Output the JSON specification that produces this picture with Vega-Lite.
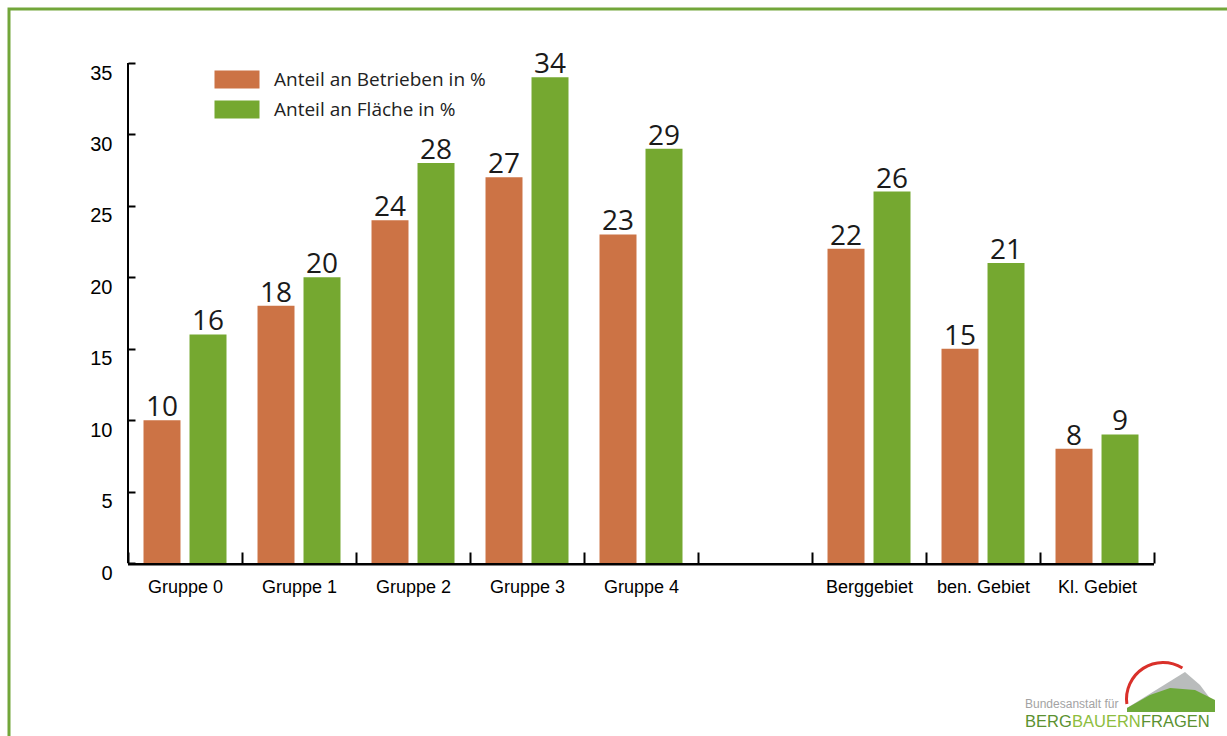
{
  "$schema": "https://vega.github.io/schema/vega-lite/v6.json",
  "width": 1223,
  "height": 732,
  "autosize": {"type": "none"},
  "padding": {"left": 9, "top": 9, "right": -5, "bottom": -5},
  "background": "white",
  "config": {"view": {"stroke": "#72a63a", "strokeWidth": 3, "fill": "white"}},
  "datasets": {
    "bars": [
      {"cat": "Gruppe 0", "series": "Anteil an Betrieben in %", "value": 10},
      {"cat": "Gruppe 0", "series": "Anteil an Fläche in %", "value": 16},
      {"cat": "Gruppe 1", "series": "Anteil an Betrieben in %", "value": 18},
      {"cat": "Gruppe 1", "series": "Anteil an Fläche in %", "value": 20},
      {"cat": "Gruppe 2", "series": "Anteil an Betrieben in %", "value": 24},
      {"cat": "Gruppe 2", "series": "Anteil an Fläche in %", "value": 28},
      {"cat": "Gruppe 3", "series": "Anteil an Betrieben in %", "value": 27},
      {"cat": "Gruppe 3", "series": "Anteil an Fläche in %", "value": 34},
      {"cat": "Gruppe 4", "series": "Anteil an Betrieben in %", "value": 23},
      {"cat": "Gruppe 4", "series": "Anteil an Fläche in %", "value": 29},
      {"cat": "Berggebiet", "series": "Anteil an Betrieben in %", "value": 22},
      {"cat": "Berggebiet", "series": "Anteil an Fläche in %", "value": 26},
      {"cat": "ben. Gebiet", "series": "Anteil an Betrieben in %", "value": 15},
      {"cat": "ben. Gebiet", "series": "Anteil an Fläche in %", "value": 21},
      {"cat": "Kl. Gebiet", "series": "Anteil an Betrieben in %", "value": 8},
      {"cat": "Kl. Gebiet", "series": "Anteil an Fläche in %", "value": 9}
    ],
    "cats": [
      {"cat": "Gruppe 0"}, {"cat": "Gruppe 1"}, {"cat": "Gruppe 2"}, {"cat": "Gruppe 3"}, {"cat": "Gruppe 4"},
      {"cat": " "}, {"cat": "Berggebiet"}, {"cat": "ben. Gebiet"}, {"cat": "Kl. Gebiet"}
    ],
    "logo": [{"name": "logo"}]
  },
  "layer": [
    {
      "data": {"name": "cats"},
      "mark": {"type": "bar", "color": "black"},
      "encoding": {
        "x": {"field": "cat", "type": "nominal"},
        "y": {"datum": 0, "type": "quantitative"},
        "y2": {"datum": -0.17}
      }
    },
    {
      "data": {"name": "logo"},
      "mark": {"type": "rule", "color": "black", "strokeWidth": 2},
      "encoding": {
        "x": {"datum": "Gruppe 0", "type": "nominal", "bandPosition": 0},
        "y": {"datum": 0, "type": "quantitative"},
        "y2": {"datum": 35}
      }
    },
    {
      "data": {"name": "bars"},
      "mark": {"type": "bar"},
      "encoding": {
        "x": {
          "field": "cat",
          "type": "nominal",
          "sort": null,
          "scale": {
            "domain": ["Gruppe 0", "Gruppe 1", "Gruppe 2", "Gruppe 3", "Gruppe 4", " ", "Berggebiet", "ben. Gebiet", "Kl. Gebiet"],
            "paddingInner": 0,
            "paddingOuter": 0.864,
            "align": 0.6041
          },
          "axis": {
            "title": null,
            "offset": -178,
            "domain": false,
            "tickBand": "extent",
            "tickSize": -11,
            "tickWidth": 2,
            "tickColor": "black",
            "labelAngle": 0,
            "labelAlign": "center",
            "labelFont": "Liberation Sans",
            "labelFontSize": 18,
            "labelColor": "black",
            "labelPadding": 35
          }
        },
        "xOffset": {
          "field": "series",
          "type": "nominal",
          "scale": {"domain": ["Anteil an Betrieben in %", "Anteil an Fläche in %"], "paddingInner": 0.196, "paddingOuter": 0.337}
        },
        "y": {
          "field": "value",
          "type": "quantitative",
          "scale": {"domain": [-12.46, 38.78], "nice": false, "zero": false},
          "axis": {
            "title": null,
            "values": [0, 5, 10, 15, 20, 25, 30, 35],
            "offset": -119,
            "domain": false,
            "grid": false,
            "tickSize": -7,
            "tickWidth": 2,
            "tickColor": "black",
            "labelFont": "Liberation Sans",
            "labelFontSize": 20,
            "labelColor": "black",
            "labelPadding": 23,
            "labelOffset": 10
          }
        },
        "color": {
          "field": "series",
          "type": "nominal",
          "scale": {"domain": ["Anteil an Betrieben in %", "Anteil an Fläche in %"], "range": ["#cc7345", "#75a830"]},
          "legend": {
            "title": null,
            "orient": "none",
            "legendX": 218.5,
            "legendY": 61,
            "padding": 0,
            "symbolType": "M-2.5,-1H2.5V1H-2.5Z",
            "symbolSize": 324,
            "symbolStrokeWidth": 0,
            "symbolOpacity": 1,
            "labelFont": "Open Sans",
            "labelFontSize": 19,
            "labelColor": "#222",
            "labelOffset": 27.5,
            "labelLimit": 500,
            "rowPadding": 10
          }
        }
      }
    },
    {
      "data": {"name": "bars"},
      "mark": {"type": "text", "font": "Open Sans", "fontSize": 28, "baseline": "alphabetic", "dy": -4, "color": "#1a1a1a"},
      "encoding": {
        "x": {"field": "cat", "type": "nominal"},
        "xOffset": {"field": "series", "type": "nominal"},
        "y": {"field": "value", "type": "quantitative"},
        "text": {"field": "value", "type": "quantitative"}
      }
    },
    {
      "data": {"name": "logo"},
      "mark": {"type": "point", "filled": true, "color": "#b9bcbc", "opacity": 1, "size": 8649, "strokeWidth": 0, "shape": "M-0.946,0.3L-0.946,0.237L0.301,-0.538L0.624,-0.258L0.946,0.172L0.946,0.3Z"},
      "encoding": {
        "x": {"datum": "Kl. Gebiet", "type": "nominal", "bandPosition": 1.149},
        "y": {"datum": -9.38, "type": "quantitative"}
      }
    },
    {
      "data": {"name": "logo"},
      "mark": {"type": "point", "filled": true, "color": "#6da83a", "opacity": 1, "size": 8649, "strokeWidth": 0, "shape": "M-0.946,0.32L-0.946,0.237L-0.452,-0.043L-0.02,-0.194L0.516,-0.15L0.946,0.065L0.946,0.32Z"},
      "encoding": {
        "x": {"datum": "Kl. Gebiet", "type": "nominal", "bandPosition": 1.149},
        "y": {"datum": -9.38, "type": "quantitative"}
      }
    },
    {
      "data": {"name": "logo"},
      "mark": {"type": "arc", "color": "#d9302a", "radius": 38, "radius2": 35, "theta": -1.71, "theta2": 0.56},
      "encoding": {
        "x": {"datum": "Kl. Gebiet", "type": "nominal", "bandPosition": 1.079},
        "y": {"datum": -9.52, "type": "quantitative"}
      }
    },
    {
      "data": {"name": "logo"},
      "mark": {"type": "text", "font": "Liberation Sans", "fontSize": 12, "align": "left", "baseline": "alphabetic", "dx": -15, "color": "#a3a3a3", "text": "Bundesanstalt für"},
      "encoding": {
        "x": {"datum": "Kl. Gebiet", "type": "nominal", "bandPosition": 0},
        "y": {"datum": -10.15, "type": "quantitative"}
      }
    },
    {
      "data": {"name": "logo"},
      "mark": {"type": "text", "font": "Liberation Sans", "fontSize": 16.5, "align": "left", "baseline": "alphabetic", "dx": -15, "color": "#5b9131", "text": "BERG"},
      "encoding": {
        "x": {"datum": "Kl. Gebiet", "type": "nominal", "bandPosition": 0},
        "y": {"datum": -11.48, "type": "quantitative"}
      }
    },
    {
      "data": {"name": "logo"},
      "mark": {"type": "text", "font": "Liberation Sans", "fontSize": 16.5, "align": "left", "baseline": "alphabetic", "dx": 32, "color": "#8dbd3e", "text": "BAUERN"},
      "encoding": {
        "x": {"datum": "Kl. Gebiet", "type": "nominal", "bandPosition": 0},
        "y": {"datum": -11.48, "type": "quantitative"}
      }
    },
    {
      "data": {"name": "logo"},
      "mark": {"type": "text", "font": "Liberation Sans", "fontSize": 16.5, "align": "left", "baseline": "alphabetic", "dx": 101, "color": "#5b9131", "text": "FRAGEN"},
      "encoding": {
        "x": {"datum": "Kl. Gebiet", "type": "nominal", "bandPosition": 0},
        "y": {"datum": -11.48, "type": "quantitative"}
      }
    }
  ]
}
